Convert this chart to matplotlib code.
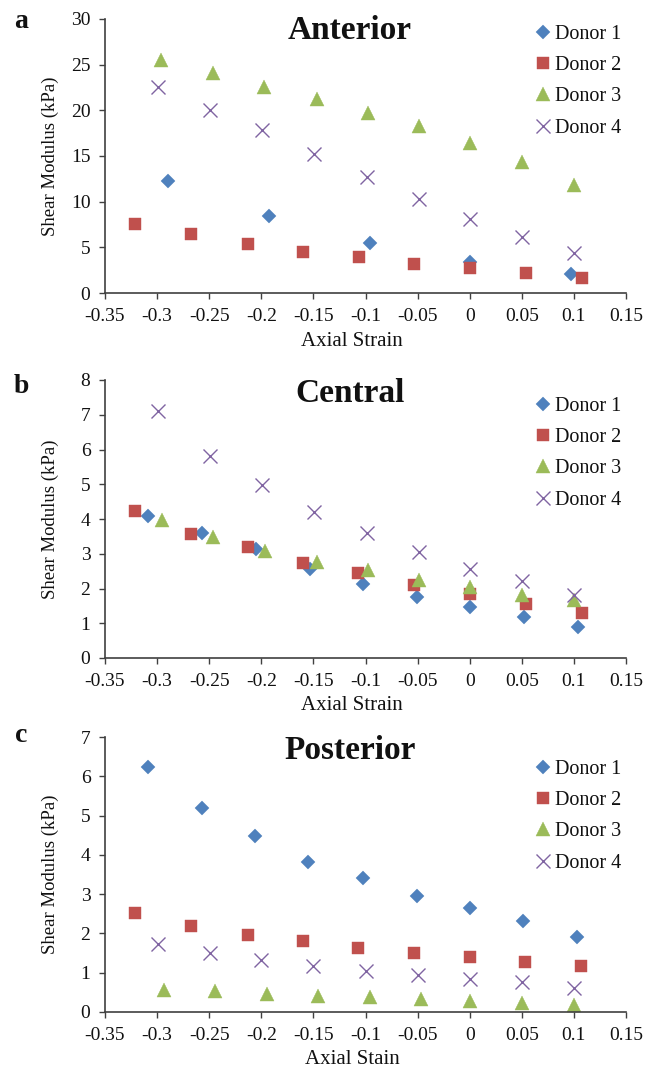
import matplotlib
matplotlib.use("Agg")
import matplotlib.pyplot as plt
from matplotlib.ticker import MultipleLocator, FuncFormatter

# ---------------- data ----------------
donors = ["Donor 1", "Donor 2", "Donor 3", "Donor 4"]

# Anterior
ant_d1_x = [-0.290, -0.193, -0.096, 0.000, 0.097]
ant_d1_y = [12.25, 8.47, 5.45, 3.38, 2.10]
ant_d2_x = [-0.321, -0.267, -0.213, -0.160, -0.106, -0.053, 0.000, 0.054, 0.108]
ant_d2_y = [7.56, 6.44, 5.35, 4.50, 3.89, 3.20, 2.69, 2.18, 1.64]
ant_d3_x = [-0.296, -0.246, -0.197, -0.147, -0.098, -0.049, 0.000, 0.050, 0.100]
ant_d3_y = [25.5, 24.1, 22.5, 21.2, 19.7, 18.25, 16.4, 14.3, 11.8]
ant_d4_x = [-0.299, -0.249, -0.199, -0.149, -0.099, -0.049, 0.000, 0.050, 0.100]
ant_d4_y = [22.6, 20.0, 17.8, 15.2, 12.7, 10.3, 8.15, 6.1, 4.4]

# Central
cen_d1_x = [-0.309, -0.257, -0.205, -0.153, -0.102, -0.051, 0.000, 0.052, 0.104]
cen_d1_y = [4.10, 3.61, 3.13, 2.57, 2.14, 1.75, 1.47, 1.18, 0.89]
cen_d2_x = [-0.321, -0.267, -0.213, -0.160, -0.107, -0.053, 0.000, 0.054, 0.108]
cen_d2_y = [4.24, 3.57, 3.18, 2.73, 2.44, 2.11, 1.84, 1.56, 1.29]
cen_d3_x = [-0.295, -0.246, -0.196, -0.147, -0.098, -0.049, 0.000, 0.050, 0.100]
cen_d3_y = [3.97, 3.47, 3.08, 2.75, 2.52, 2.25, 2.03, 1.82, 1.66]
cen_d4_x = [-0.299, -0.249, -0.199, -0.149, -0.099, -0.049, 0.000, 0.050, 0.100]
cen_d4_y = [7.12, 5.80, 4.98, 4.21, 3.61, 3.05, 2.57, 2.22, 1.82]

# Posterior
pos_d1_x = [-0.309, -0.257, -0.206, -0.155, -0.102, -0.051, 0.000, 0.051, 0.103]
pos_d1_y = [6.23, 5.20, 4.48, 3.83, 3.40, 2.96, 2.64, 2.31, 1.92]
pos_d2_x = [-0.321, -0.267, -0.213, -0.160, -0.107, -0.053, 0.000, 0.053, 0.107]
pos_d2_y = [2.51, 2.19, 1.97, 1.81, 1.64, 1.51, 1.40, 1.28, 1.17]
pos_d3_x = [-0.293, -0.244, -0.195, -0.146, -0.096, -0.047, 0.000, 0.050, 0.100]
pos_d3_y = [0.57, 0.54, 0.47, 0.41, 0.37, 0.32, 0.28, 0.24, 0.17]
pos_d4_x = [-0.299, -0.249, -0.200, -0.150, -0.100, -0.050, 0.000, 0.050, 0.100]
pos_d4_y = [1.72, 1.49, 1.32, 1.17, 1.05, 0.94, 0.85, 0.77, 0.62]

titles = ["Anterior", "Central", "Posterior"]
panel_letters = ["a", "b", "c"]
xlabels = ["Axial Strain", "Axial Strain", "Axial Stain"]
ylabel = "Shear Modulus (kPa)"
ymaxes = [30, 8, 7]
ysteps = [5, 1, 1]

panels = [
    [(ant_d1_x, ant_d1_y), (ant_d2_x, ant_d2_y), (ant_d3_x, ant_d3_y), (ant_d4_x, ant_d4_y)],
    [(cen_d1_x, cen_d1_y), (cen_d2_x, cen_d2_y), (cen_d3_x, cen_d3_y), (cen_d4_x, cen_d4_y)],
    [(pos_d1_x, pos_d1_y), (pos_d2_x, pos_d2_y), (pos_d3_x, pos_d3_y), (pos_d4_x, pos_d4_y)],
]

# ---------------- style ----------------
plt.rcParams['font.family'] = ['Liberation Serif', 'DejaVu Serif']
W, H = 659, 1068
fig = plt.figure(figsize=(W / 100, H / 100), dpi=100)

colors = ["#4F81BD", "#C0504D", "#9BBB59", "#8064A2"]
markers = ["D", "s", "^", "x"]
msizes = [7.2, 9.0, 10.5, 9.5]
axis_col = "#404040"
txt_col = "#111111"

# axes boxes in pixel coords: (left, right, top, bottom)
boxes = [(105, 626, 19, 293), (105, 626, 380, 658), (105, 626, 737, 1012)]
title_base = [39, 402, 759]
title_x = 350
letter_pos = [(21, 28), (21, 393), (21, 742)]
xlabel_y = [342, 705, 1059]
xlabel_x = 352
legend_top = [25, 397, 760]


def fmt(v, pos):
    v = round(v, 2)
    if abs(v) < 1e-9:
        return "0"
    return f"{v:g}"


for i, (data, box) in enumerate(zip(panels, boxes)):
    l, r, t, b = box
    ax = fig.add_axes([l / W, 1 - b / H, (r - l) / W, (b - t) / H])
    for j, (xs, ys) in enumerate(data):
        ax.plot(xs, ys, linestyle="none", marker=markers[j], ms=msizes[j],
                color=colors[j], mec=colors[j], mew=1.0 if markers[j] == "x" else 0.3,
                label=donors[j], clip_on=False)
    ax.set_xlim(-0.35, 0.15)
    ax.set_ylim(0, ymaxes[i])
    ax.xaxis.set_major_locator(MultipleLocator(0.05))
    ax.yaxis.set_major_locator(MultipleLocator(ysteps[i]))
    ax.xaxis.set_major_formatter(FuncFormatter(fmt))
    ax.yaxis.set_major_formatter(FuncFormatter(fmt))
    for s in ["top", "right"]:
        ax.spines[s].set_visible(False)
    for s in ["left", "bottom"]:
        ax.spines[s].set_color(axis_col)
        ax.spines[s].set_linewidth(1.2)
    ax.tick_params(direction="out", length=4, width=1.0, color=axis_col,
                   labelsize=14, labelcolor=txt_col, pad=6.5)
    ax.set_ylabel(ylabel, fontsize=13.5, color=txt_col)
    ax.yaxis.set_label_coords((50 - l) / (r - l), 0.5)
    ax.set_xlabel(xlabels[i], fontsize=15, color=txt_col)
    ax.xaxis.set_label_coords((xlabel_x - l) / (r - l), (b - xlabel_y[i]) / (b - t))
    ax.xaxis.label.set_va("center")
    ax.yaxis.label.set_va("center")

    fig.text(title_x / W, 1 - title_base[i] / H, titles[i], fontsize=24,
             fontweight="bold", ha="center", va="baseline", color=txt_col)
    lx, ly = letter_pos[i]
    fig.text(lx / W, 1 - ly / H, panel_letters[i], fontsize=20,
             fontweight="bold", ha="center", va="baseline", color=txt_col)

    leg = ax.legend(loc="upper left", bbox_to_anchor=(535.0 / W, 1 - legend_top[i] / H),
                    bbox_transform=fig.transFigure, frameon=False, fontsize=14.5,
                    handlelength=0.8, handletextpad=0.2, labelspacing=0.6,
                    borderpad=0, borderaxespad=0, numpoints=1)
    for txt in leg.get_texts():
        txt.set_color(txt_col)

fig.savefig("out.png", dpi=100)
